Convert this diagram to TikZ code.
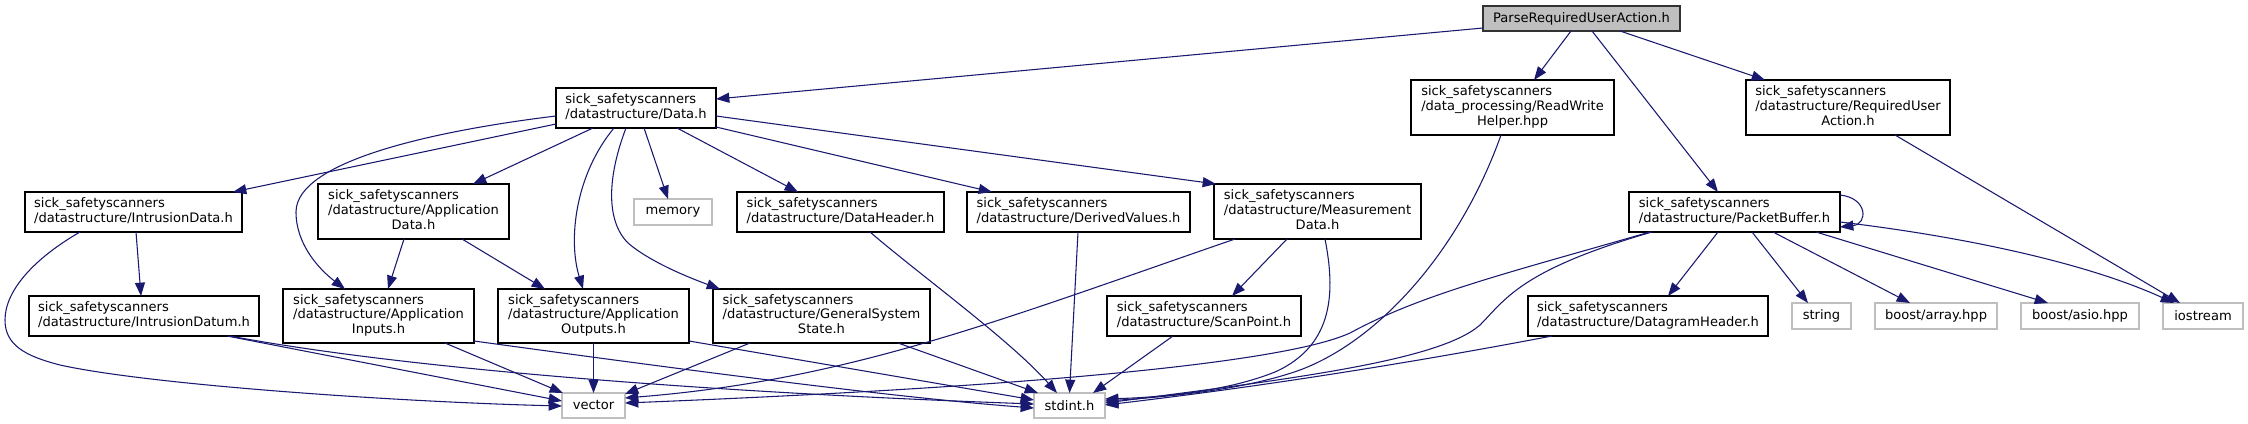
\documentclass[tikz,border=0pt]{standalone}
\usepackage{fontspec}
\setmainfont{DejaVu Sans}
\usetikzlibrary{arrows.meta}
\definecolor{edgeblue}{HTML}{191970}
\definecolor{rootfill}{HTML}{BFBFBF}
\definecolor{extborder}{HTML}{BFBFBF}
\newcommand{\lbltwo}[2]{\begin{tabular}{@{}l@{}}#1\\#2\end{tabular}}
\newcommand{\lblthree}[3]{\begin{tabular}{@{}l@{}}#1\\#2\\\multicolumn{1}{@{}c@{}}{#3}\end{tabular}}
\newcommand{\sss}{sick\_safetyscanners}
\begin{document}
\begin{tikzpicture}[x=0.75pt,y=-0.75pt,
  every node/.style={font=\fontsize{9.8}{11}\selectfont, inner sep=0pt, outer sep=0pt},
  docbox/.style={draw=black, line width=1pt, fill=white},
  extbox/.style={draw=extborder, line width=1pt, fill=white},
  rootbox/.style={draw=black!80, line width=1pt, fill=rootfill},
  sz/.style 2 args={minimum width={#1*0.75pt}, minimum height={#2*0.75pt}},
  edge/.style={draw=edgeblue, line width=0.8pt, -{Triangle[length=10pt,width=7.5pt]}}
]
\useasboundingbox (0,0) rectangle (2248,424);
\fill[white] (0,0) rectangle (2248,424);

% nodes
\node[rootbox, sz={197}{25}] (root) at (1581.5,18.5) {ParseRequiredUserAction.h};
\node[docbox, sz={160}{40}] (data) at (636,108) {\lbltwo{\sss}{/datastructure/Data.h}};
\node[docbox, sz={203}{55}] (rwh) at (1512.5,107.5) {\lblthree{\sss}{/data\_processing/ReadWrite}{Helper.hpp}};
\node[docbox, sz={204}{55}] (rua) at (1848,107.5) {\lblthree{\sss}{/datastructure/RequiredUser}{Action.h}};
\node[docbox, sz={211}{40}] (pb) at (1734.5,212) {\lbltwo{\sss}{/datastructure/PacketBuffer.h}};
\node[docbox, sz={217}{40}] (idata) at (133.5,212) {\lbltwo{\sss}{/datastructure/IntrusionData.h}};
\node[docbox, sz={191}{55}] (appdata) at (413.5,211.5) {\lblthree{\sss}{/datastructure/Application}{Data.h}};
\node[extbox, sz={78}{26}] (memory) at (673,212) {memory};
\node[docbox, sz={207}{40}] (dhdr) at (840.5,212) {\lbltwo{\sss}{/datastructure/DataHeader.h}};
\node[docbox, sz={223}{40}] (dval) at (1078.5,212) {\lbltwo{\sss}{/datastructure/DerivedValues.h}};
\node[docbox, sz={207}{55}] (meas) at (1317.5,211.5) {\lblthree{\sss}{/datastructure/Measurement}{Data.h}};
\node[docbox, sz={230}{40}] (idatum) at (144,316) {\lbltwo{\sss}{/datastructure/IntrusionDatum.h}};
\node[docbox, sz={191}{54}] (appin) at (378.5,316) {\lblthree{\sss}{/datastructure/Application}{Inputs.h}};
\node[docbox, sz={191}{54}] (appout) at (593.5,316) {\lblthree{\sss}{/datastructure/Application}{Outputs.h}};
\node[docbox, sz={217}{54}] (gss) at (821.5,316) {\lblthree{\sss}{/datastructure/GeneralSystem}{State.h}};
\node[docbox, sz={194}{40}] (scan) at (1204,316) {\lbltwo{\sss}{/datastructure/ScanPoint.h}};
\node[docbox, sz={240}{40}] (dgram) at (1648,316) {\lbltwo{\sss}{/datastructure/DatagramHeader.h}};
\node[extbox, sz={59}{26}] (string) at (1821.5,316) {string};
\node[extbox, sz={122}{26}] (barray) at (1936,316) {boost/array.hpp};
\node[extbox, sz={118}{26}] (basio) at (2080,316) {boost/asio.hpp};
\node[extbox, sz={80}{26}] (iostream) at (2203,316) {iostream};
\node[extbox, sz={63}{25}] (vector) at (593.5,405.5) {vector};
\node[extbox, sz={71}{25}] (stdint) at (1069.5,405.5) {stdint.h};

% root edges
\draw[edge] ([shift={(0,-3)}]root.south west) -- ([shift={(0,11)}]data.north east);
\draw[edge] ([shift={(88,0)}]root.south west) -- ([shift={(123,0)}]rwh.north west);
\draw[edge] ([shift={(109,0)}]root.south west) -- ([shift={(89,0)}]pb.north west);
\draw[edge] ([shift={(137,0)}]root.south west) -- ([shift={(19,0)}]rua.north west);

% Data.h edges
\draw[edge] ([shift={(0,-4)}]data.south west) -- ([shift={(208,0)}]idata.north west);
\draw[edge] ([shift={(0,-12)}]data.south west) .. controls (440,130) and (296,160) .. (296,212)
  .. controls (296,245) and (320,270) .. ([shift={(62,0)}]appin.north west);
\draw[edge] ([shift={(37,0)}]data.south west) -- ([shift={(155,0)}]appdata.north west);
\draw[edge] ([shift={(58,0)}]data.south west) .. controls (575,175) and (568,240) .. ([shift={(85,0)}]appout.north west);
\draw[edge] ([shift={(70,0)}]data.south west) .. controls (608,175) and (605,220) .. (628,243)
  .. controls (650,262) and (690,278) .. ([shift={(7,0)}]gss.north west);
\draw[edge] ([shift={(88,0)}]data.south west) -- ([shift={(34,0)}]memory.north west);
\draw[edge] ([shift={(121,0)}]data.south west) -- ([shift={(61,0)}]dhdr.north west);
\draw[edge] ([shift={(0,-1)}]data.south east) -- ([shift={(25,0)}]dval.north west);
\draw[edge] ([shift={(0,-12)}]data.south east) -- ([shift={(2,0)}]meas.north west);

% IntrusionData edges
\draw[edge] ([shift={(111,0)}]idata.south west) -- ([shift={(112,0)}]idatum.north west);
\draw[edge] ([shift={(55,0)}]idata.south west) .. controls (35,258) and (5,290) .. (5,320)
  .. controls (5,345) and (25,356) .. (60,365)
  .. controls (150,385) and (400,402) .. ([shift={(0,13)}]vector.north west);

% ApplicationData edges
\draw[edge] ([shift={(86,0)}]appdata.south west) -- ([shift={(105,0)}]appin.north west);
\draw[edge] ([shift={(144,0)}]appdata.south west) -- ([shift={(47,0)}]appout.north west);

% IntrusionDatum edges
\draw[edge] ([shift={(198,0)}]idatum.south west) -- ([shift={(0,8)}]vector.north west);
\draw[edge] ([shift={(201,0)}]idatum.south west) .. controls (400,368) and (700,392) .. ([shift={(0,11)}]stdint.north west);

% ApplicationInputs edges
\draw[edge] ([shift={(162,0)}]appin.south west) -- ([shift={(1,0)}]vector.north west);
\draw[edge] ([shift={(0,-2)}]appin.south east) .. controls (700,372) and (900,398) .. ([shift={(0,15)}]stdint.north west);

% ApplicationOutputs edges
\draw[edge] (appout.south) -- (vector.north);
\draw[edge] ([shift={(0,-2)}]appout.south east) -- ([shift={(0,7)}]stdint.north west);

% GeneralSystemState edges
\draw[edge] ([shift={(37,0)}]gss.south west) -- ([shift={(0,1)}]vector.north east);
\draw[edge] ([shift={(185,0)}]gss.south west) -- ([shift={(4,0)}]stdint.north west);

% DataHeader, DerivedValues
\draw[edge] ([shift={(133,0)}]dhdr.south west) .. controls (920,275) and (1010,340) .. ([shift={(23,0)}]stdint.north west);
\draw[edge] ([shift={(111,0)}]dval.south west) -- (stdint.north);

% MeasurementData edges
\draw[edge] ([shift={(21,0)}]meas.south west) .. controls (1000,320) and (850,380) .. ([shift={(0,5)}]vector.north east);
\draw[edge] ([shift={(73,0)}]meas.south west) -- ([shift={(125,0)}]scan.north west);
\draw[edge] ([shift={(111,0)}]meas.south west) .. controls (1335,290) and (1335,345) .. (1275,372)
  .. controls (1230,390) and (1170,397) .. ([shift={(0,6)}]stdint.north east);

% ScanPoint
\draw[edge] ([shift={(66,0)}]scan.south west) -- ([shift={(59,0)}]stdint.north west);

% ReadWriteHelper
\draw[edge] ([shift={(90,0)}]rwh.south west) .. controls (1460,250) and (1380,340) .. (1300,370)
  .. controls (1250,388) and (1180,396) .. ([shift={(0,8)}]stdint.north east);

% PacketBuffer edges
\draw[edge] ([shift={(21,0)}]pb.south west) .. controls (1500,275) and (1420,295) .. (1350,333)
  .. controls (1280,365) and (1000,388) .. ([shift={(0,10)}]vector.north east);
\draw[edge] ([shift={(23,0)}]pb.south west) .. controls (1520,270) and (1505,300) .. (1480,325)
  .. controls (1440,360) and (1300,378) .. ([shift={(0,10)}]stdint.north east);
\draw[edge] ([shift={(89,0)}]pb.south west) -- ([shift={(140,0)}]dgram.north west);
\draw[edge] ([shift={(123,0)}]pb.south west) -- ([shift={(16,0)}]string.north west);
\draw[edge] ([shift={(144,0)}]pb.south west) -- ([shift={(35,0)}]barray.north west);
\draw[edge] ([shift={(187,0)}]pb.south west) -- ([shift={(27,0)}]basio.north west);
\draw[edge] ([shift={(0,-10)}]pb.south east) .. controls (1950,235) and (2080,260) .. ([shift={(11,0)}]iostream.north west);
\draw[edge] ([shift={(0,3)}]pb.north east) .. controls (1868,198) and (1868,224) .. ([shift={(0,-5)}]pb.south east);

% DatagramHeader
\draw[edge] ([shift={(24,0)}]dgram.south west) .. controls (1400,365) and (1250,388) .. ([shift={(0,12)}]stdint.north east);

% RequiredUserAction
\draw[edge] ([shift={(149,0)}]rua.south west) -- ([shift={(17,0)}]iostream.north west);
\end{tikzpicture}
\end{document}
